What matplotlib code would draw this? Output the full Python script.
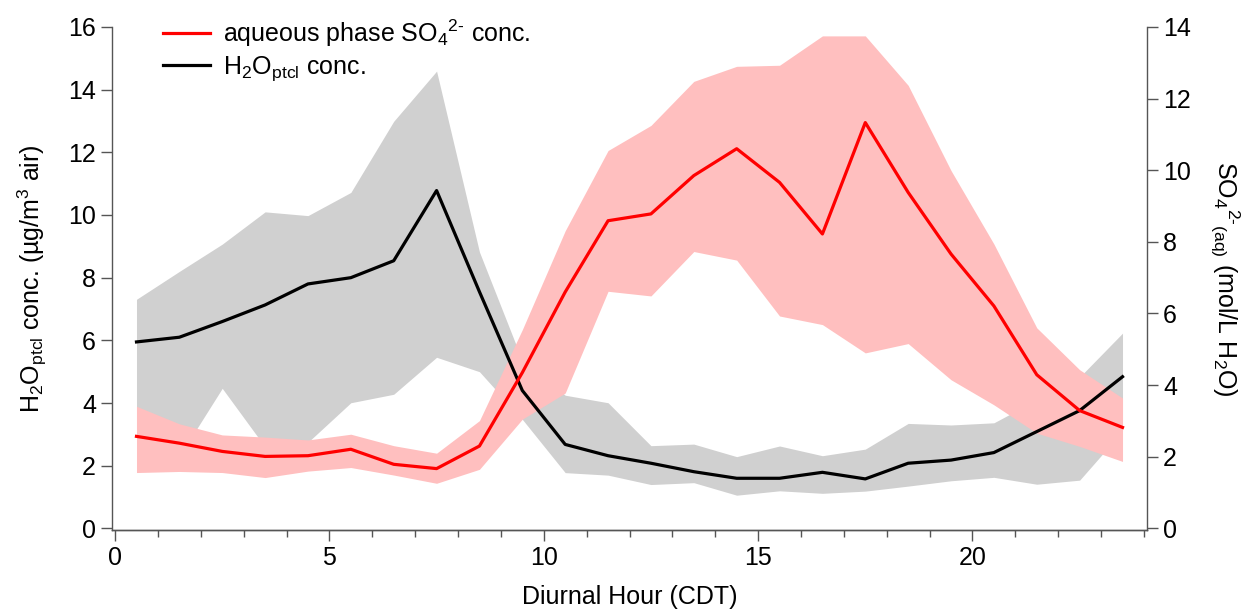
import matplotlib.pyplot as plt
import numpy as np
from matplotlib.ticker import MultipleLocator

plt.rcParams['font.family'] = ['Liberation Sans', 'DejaVu Sans']
plt.rcParams['mathtext.fontset'] = 'custom'
plt.rcParams['mathtext.rm'] = 'Liberation Sans'
plt.rcParams['mathtext.it'] = 'Liberation Sans:italic'
plt.rcParams['mathtext.bf'] = 'Liberation Sans:bold'

hours = [0.5, 1.5, 2.5, 3.5, 4.5, 5.5, 6.5, 7.5, 8.5, 9.5, 10.5, 11.5,
         12.5, 13.5, 14.5, 15.5, 16.5, 17.5, 18.5, 19.5, 20.5, 21.5, 22.5, 23.5]

# particle water (ug/m3 air), left axis
h2o_mean = [5.95, 6.1, 6.6, 7.13, 7.8, 8.0, 8.54, 10.78, 7.55, 4.4, 2.68, 2.32,
            2.08, 1.81, 1.6, 1.6, 1.79, 1.58, 2.08, 2.18, 2.42, 3.09, 3.76, 4.84]
h2o_upper = [7.31, 8.2, 9.07, 10.1, 9.98, 10.72, 12.99, 14.59, 8.82, 5.35, 4.25, 4.01,
             2.64, 2.69, 2.29, 2.63, 2.32, 2.53, 3.35, 3.3, 3.37, 4.1, 4.83, 6.23]
h2o_lower = [3.0, 2.3, 4.47, 2.6, 2.75, 4.01, 4.28, 5.46, 5.0, 3.48, 1.78, 1.7,
             1.4, 1.46, 1.06, 1.2, 1.12, 1.19, 1.35, 1.52, 1.63, 1.41, 1.54, 3.1]

# aqueous sulfate (mol/L H2O), right axis
so4_mean = [2.57, 2.38, 2.15, 2.01, 2.03, 2.21, 1.79, 1.67, 2.3, 4.35, 6.6, 8.59,
            8.78, 9.85, 10.6, 9.66, 8.22, 11.33, 9.38, 7.66, 6.21, 4.29, 3.29, 2.82]
so4_upper = [3.41, 2.92, 2.61, 2.55, 2.47, 2.63, 2.31, 2.1, 3.01, 5.55, 8.31, 10.55,
             11.25, 12.48, 12.9, 12.93, 13.75, 13.75, 12.37, 9.99, 7.94, 5.6, 4.43, 3.64]
so4_lower = [1.56, 1.59, 1.56, 1.42, 1.6, 1.7, 1.49, 1.26, 1.65, 3.05, 3.78, 6.62,
             6.49, 7.73, 7.49, 5.93, 5.69, 4.9, 5.16, 4.15, 3.45, 2.66, 2.29, 1.87]

fig = plt.figure(figsize=(12.52, 6.12), dpi=100)
ax = fig.add_axes([0.0895, 0.134, 0.8266, 0.822])
ax2 = ax.twinx()

ax.set_xlim(-0.07, 24.07)
ax.set_ylim(-0.05, 16)
ax2.set_ylim(-0.05 * 14 / 16, 14)

# everything drawn on ax so the stacking order matches (pink over grey, lines on top)
ax.fill_between(hours, h2o_lower, h2o_upper, color='#d0d0d0', lw=0, zorder=1)
ax.fill_between(hours, so4_lower, so4_upper, color='#ffbfbf', lw=0, zorder=2,
                transform=ax2.transData)
l_h2o, = ax.plot(hours, h2o_mean, color='black', lw=2.3, zorder=3)
l_so4, = ax.plot(hours, so4_mean, color='#ff0000', lw=2.3, zorder=4,
                 transform=ax2.transData)

spine_col = '#555555'
for a in (ax, ax2):
    a.spines['top'].set_visible(False)
    for s in a.spines.values():
        s.set_color(spine_col)
        s.set_linewidth(1.0)
    a.tick_params(which='both', direction='out', color=spine_col, labelsize=18,
                  width=1.0)
    a.tick_params(which='major', length=8)
    a.tick_params(which='minor', length=5)
ax2.spines['left'].set_visible(False)
ax.spines['right'].set_visible(False)

ax.set_xticks([0, 5, 10, 15, 20])
ax.xaxis.set_minor_locator(MultipleLocator(1))
ax.set_yticks(np.arange(0, 17, 2))
ax2.set_yticks(np.arange(0, 15, 2))

ax.set_xlabel('Diurnal Hour (CDT)', fontsize=18, labelpad=11)
ax.set_ylabel(r'H$_2$O$_{\rm ptcl}$ conc. (µg/m$^3$ air)', fontsize=18, labelpad=14)
ax2.set_ylabel(r'SO$_4$$^{\text{2-}}$$_{\rm (aq)}$ (mol/L H$_2$O)', fontsize=18,
               rotation=270, labelpad=36)

ax.legend([l_so4, l_h2o],
          [r'aqueous phase SO$_4$$^{\text{2-}}$ conc.', r'H$_2$O$_{\rm ptcl}$ conc.'],
          loc='upper left', bbox_to_anchor=(0.032, 1.053), frameon=False,
          fontsize=18, handlelength=1.9, handletextpad=0.5, labelspacing=0.2,
          borderpad=0.2)

fig.savefig('out.png', dpi=100)
